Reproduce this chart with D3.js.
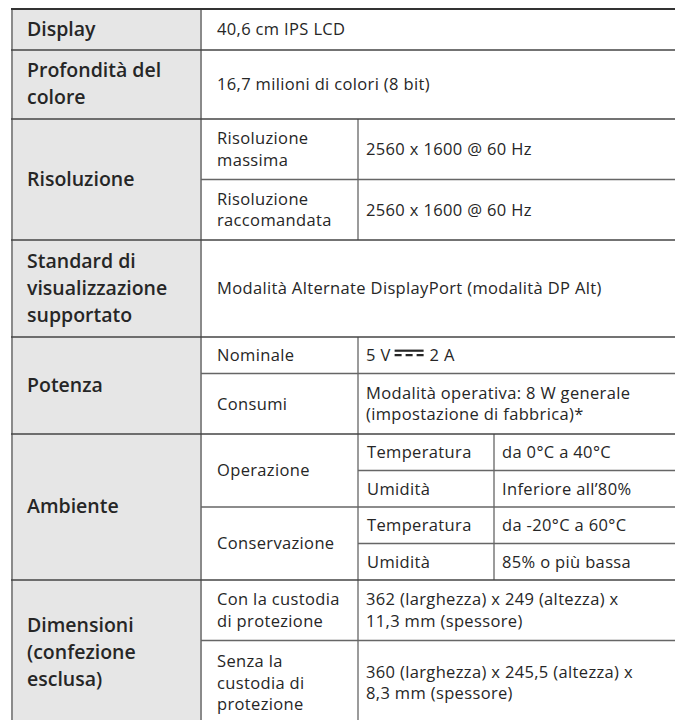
<!DOCTYPE html>
<html>
<head>
<meta charset="utf-8">
<script src="https://cdn.jsdelivr.net/npm/d3@7"></script>
<style>
html,body{margin:0;padding:0;background:#fff;}
svg{display:block;}
</style>
</head>
<body>
<svg id="chart" width="675" height="720"></svg>
<script>
// ---- DATA ----
const sectionLabels = [
  "Display",
  "Profondità del\ncolore",
  "Risoluzione",
  "Standard di\nvisualizzazione\nsupportato",
  "Potenza",
  "Ambiente",
  "Dimensioni\n(confezione\nesclusa)"
];
// one entry per leaf row
const rowSection = [0, 1, 2, 2, 3, 4, 4, 5, 5, 5, 5, 6, 6];
const rowSub = [
  null, null,
  "Risoluzione\nmassima", "Risoluzione\nraccomandata",
  null,
  "Nominale", "Consumi",
  "Operazione", "Operazione", "Conservazione", "Conservazione",
  "Con la custodia\ndi protezione", "Senza la\ncustodia di\nprotezione"
];
const rowSubSub = [
  null, null, null, null, null, null, null,
  "Temperatura", "Umidità", "Temperatura", "Umidità",
  null, null
];
const rowValues = [
  "40,6 cm IPS LCD",
  "16,7 milioni di colori (8 bit)",
  "2560 x 1600 @ 60 Hz",
  "2560 x 1600 @ 60 Hz",
  "Modalità Alternate DisplayPort (modalità DP Alt)",
  "5 V {DC} 2 A",
  "Modalità operativa: 8 W generale\n(impostazione di fabbrica)*",
  "da 0°C a 40°C",
  "Inferiore all’80%",
  "da -20°C a 60°C",
  "85% o più bassa",
  "362 (larghezza) x 249 (altezza) x\n11,3 mm (spessore)",
  "360 (larghezza) x 245,5 (altezza) x\n8,3 mm (spessore)"
];

// ---- LAYOUT ----
(function () {
const W = 675;
const yTop = 9;
const xLeft = 12, xC1 = 201, xC2 = 358, xC3 = 494, xRight = W;
const headLH = 28, headPad = 13, headTextLH = 27;
const bodyLH = 24, bodyPad = 12.5, bodyTextLH = 21.5;
const headFont = "'Open Sans', 'Noto Sans', sans-serif";
const bodyFont = "'Open Sans', 'Noto Sans', sans-serif";
const headSize = 19.5, bodySize = 16.5, bodySpacing = 0.35;

const lines = s => s.split("\n");
const nRows = rowValues.length;

const leafH = d3.range(nRows).map(i => {
  const n = Math.max(
    lines(rowValues[i]).length,
    rowSub[i] ? lines(rowSub[i]).length : 1,
    rowSubSub[i] ? lines(rowSubSub[i]).length : 1);
  return bodyPad + bodyLH * n;
});

const sections = sectionLabels.map((label, s) => {
  const rows = d3.range(nRows).filter(i => rowSection[i] === s);
  const sumLeaf = d3.sum(rows, i => leafH[i]);
  const hh = headPad + headLH * lines(label).length;
  return {label, rows, h: Math.max(sumLeaf, hh), sumLeaf};
});
sections.forEach(sec => {
  if (sec.h > sec.sumLeaf) {
    const extra = sec.h - sec.sumLeaf;
    sec.rows.forEach(i => { leafH[i] += extra / sec.rows.length; });
  }
});

const rowY = [];
let yy = yTop;
for (let i = 0; i < nRows; i++) { rowY.push(yy); yy += leafH[i]; }
const totalBottom = yy;
sections.forEach(sec => {
  sec.y0 = rowY[sec.rows[0]];
  sec.y1 = sec.y0 + sec.h;
});

const svg = d3.select("#chart");

svg.append("rect")
  .attr("x", xLeft).attr("y", yTop)
  .attr("width", xC1 - xLeft).attr("height", totalBottom - yTop + 20)
  .attr("fill", "#e6e6e6");

function multiText(g, text, x, cy, lh, font, size, weight, spacing) {
  const ls = lines(text);
  const t = g.append("text")
    .attr("font-family", font)
    .attr("font-size", size)
    .attr("font-weight", weight)
    .attr("letter-spacing", spacing || 0)
    .attr("fill", "#262626");
  ls.forEach((l, k) => {
    t.append("tspan")
      .attr("x", x)
      .attr("y", cy + (k - (ls.length - 1) / 2) * lh)
      .attr("dy", "0.36em")
      .text(l);
  });
  return t;
}
const body = (g, text, x, cy) => multiText(g, text, x, cy, bodyTextLH, bodyFont, bodySize, 400, bodySpacing);

const gText = svg.append("g");

sections.forEach(sec => {
  multiText(gText, sec.label, xLeft + 15, (sec.y0 + sec.y1) / 2 - 1, headTextLH, headFont, headSize, 600, 0);
});

const subGroups = [];
for (let i = 0; i < nRows; i++) {
  if (rowSub[i] === null) continue;
  const last = subGroups[subGroups.length - 1];
  if (last && last.label === rowSub[i] && rowSection[last.rows[0]] === rowSection[i]) last.rows.push(i);
  else subGroups.push({label: rowSub[i], rows: [i]});
}
subGroups.forEach(g => {
  g.y0 = rowY[g.rows[0]];
  g.y1 = rowY[g.rows[g.rows.length - 1]] + leafH[g.rows[g.rows.length - 1]];
  body(gText, g.label, xC1 + 16, (g.y0 + g.y1) / 2);
});

for (let i = 0; i < nRows; i++) {
  const cy = rowY[i] + leafH[i] / 2;
  if (rowSubSub[i] !== null) {
    body(gText, rowSubSub[i], xC2 + 9, cy);
  }
  const vx = rowSubSub[i] !== null ? xC3 + 8 : (rowSub[i] !== null ? xC2 + 8 : xC1 + 16);
  const v = rowValues[i];
  if (v.includes("{DC}")) {
    const parts = v.split("{DC}");
    const t = body(gText, parts[0].trim(), vx, cy);
    const w0 = t.node().getComputedTextLength();
    const sx = vx + w0 + 4, sw = 29;
    const by = cy + bodySize * 0.36;
    gText.append("line").attr("x1", sx).attr("x2", sx + sw)
      .attr("y1", by - 10.5).attr("y2", by - 10.5)
      .attr("stroke", "#262626").attr("stroke-width", 2.2);
    gText.append("line").attr("x1", sx).attr("x2", sx + sw)
      .attr("y1", by - 6).attr("y2", by - 6)
      .attr("stroke", "#262626").attr("stroke-width", 2.2)
      .attr("stroke-dasharray", "7,4");
    body(gText, parts[1].trim(), sx + sw + 6, cy);
  } else {
    body(gText, v, vx, cy);
  }
}

const gL = svg.append("g");
function hline(x1, x2, y, color, w) {
  gL.append("line").attr("x1", x1).attr("x2", x2).attr("y1", y).attr("y2", y)
    .attr("stroke", color).attr("stroke-width", w);
}
function vline(x, y1, y2, color, w) {
  gL.append("line").attr("x1", x).attr("x2", x).attr("y1", y1).attr("y2", y2)
    .attr("stroke", color).attr("stroke-width", w);
}
vline(xLeft, yTop, 720, "#8a8a8a", 2);
vline(xC1, yTop, 720, "#8a8a8a", 2);
subGroups.forEach(g => vline(xC2, g.y0, g.y1, "#7a7a7a", 1.5));
for (let i = 0; i < nRows; i++) {
  if (rowSubSub[i] !== null) vline(xC3, rowY[i], rowY[i] + leafH[i], "#7a7a7a", 1.5);
}
for (let i = 1; i < nRows; i++) {
  if (rowSection[i] !== rowSection[i - 1]) continue;
  const sameSub = rowSub[i] === rowSub[i - 1];
  hline(sameSub ? xC2 : xC1, xRight, rowY[i], "#666", 1.5);
}
hline(xLeft - 1, xRight, yTop, "#333", 2);
sections.forEach((sec, s) => {
  if (s > 0) hline(xLeft - 1, xRight, sec.y0, "#444", 1.5);
});
})();
</script>
</body>
</html>
